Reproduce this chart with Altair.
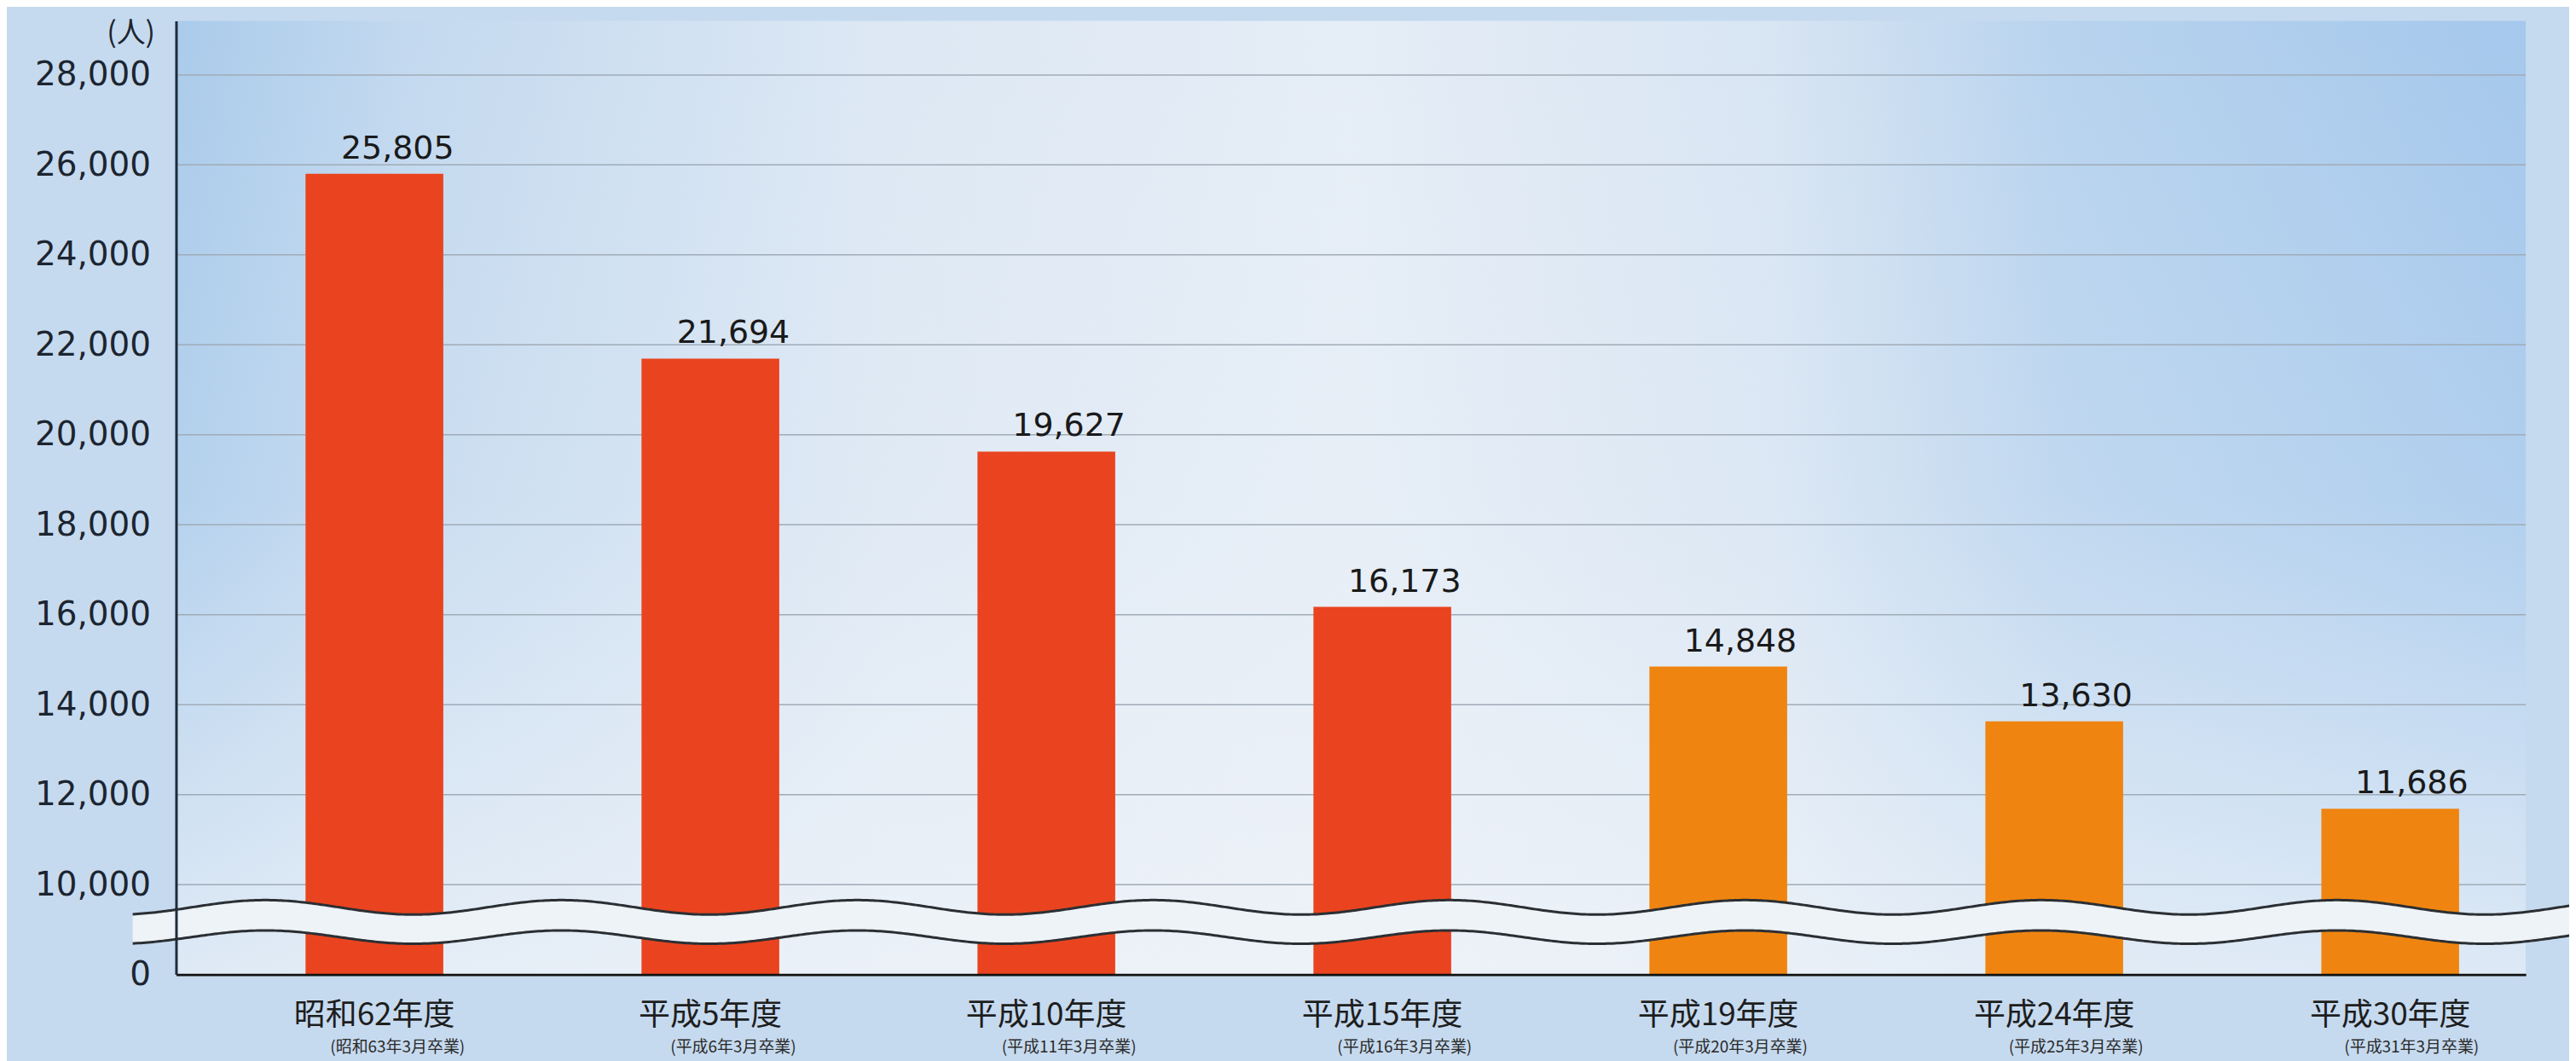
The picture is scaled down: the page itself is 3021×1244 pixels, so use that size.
import altair as alt
import pandas as pd

categories = ["昭和62年度", "平成5年度", "平成10年度", "平成15年度", "平成19年度", "平成24年度", "平成30年度"]
subtitles = ["(昭和63年3月卒業)", "(平成6年3月卒業)", "(平成11年3月卒業)", "(平成16年3月卒業)",
             "(平成20年3月卒業)", "(平成25年3月卒業)", "(平成31年3月卒業)"]
values = [25805, 21694, 19627, 16173, 14848, 13630, 11686]
groups = ["red", "red", "red", "red", "orange", "orange", "orange"]
y_ticks = [8000, 10000, 12000, 14000, 16000, 18000, 20000, 22000, 24000, 26000, 28000]
grid_ticks = y_ticks[1:]
AXIS_BREAK_BASE = 8000  # bottom of the broken axis, shown as "0"

W, H = 2763, 1121
JP = "Noto Sans CJK JP"
NUM = "DejaVu Sans"

df = pd.DataFrame({"cat": categories, "sub": subtitles, "v": values, "g": groups})
df["base"] = AXIS_BREAK_BASE
df["lab"] = [f"{v:,}" for v in values]
grid_df = pd.DataFrame({"v": grid_ticks})

yscale = alt.Scale(domain=[8000, 29200], nice=False, zero=False)
xscale = alt.Scale(domain=categories, paddingInner=0.59, paddingOuter=0.292, align=0.66)

x_axis = alt.Axis(title=None, labelFont=JP, labelFontSize=37, labelColor="#1e1e1e",
                  labelPadding=30, ticks=False, domainColor="#111111", domainWidth=3,
                  labelAngle=0, labelLimit=0, zindex=1, orient="bottom")
y_axis = alt.Axis(values=y_ticks, grid=False, ticks=False, labelPadding=30,
                  labelExpr="datum.value == 8000 ? '0' : format(datum.value, ',')",
                  labelFont=NUM, labelFontSize=39, labelColor="#1c2530",
                  domainColor="#1d2b3a", domainWidth=3,
                  title="(人)", titleAngle=0, titleAlign="right", titleBaseline="top",
                  titleX=-25, titleY=-2, titleFont=JP, titleFontSize=34,
                  titleFontWeight="normal", titleColor="#1c2530", zindex=1)

x_enc = alt.X("cat:N", sort=categories, scale=xscale, axis=x_axis)
x_noaxis = alt.X("cat:N", sort=categories, scale=xscale, axis=None)
y_enc = alt.Y("v:Q", scale=yscale, axis=y_axis)

one = pd.DataFrame({"a": [0]})
bg_h = alt.Chart(one).mark_rect(
    color=alt.Gradient(gradient="linear", x1=0, x2=1, y1=0, y2=0, stops=[
        alt.GradientStop(offset=0, color="#aacbeb"),
        alt.GradientStop(offset=0.1, color="#c3d9ef"),
        alt.GradientStop(offset=0.3, color="#dde8f4"),
        alt.GradientStop(offset=0.5, color="#e5edf6"),
        alt.GradientStop(offset=0.68, color="#d8e5f3"),
        alt.GradientStop(offset=0.8, color="#b8d3ee"),
        alt.GradientStop(offset=1, color="#a5c8ec"),
    ])
).encode(x=alt.value(0), x2=alt.value("width"), y=alt.value(0), y2=alt.value("height"))

bg_v = alt.Chart(one).mark_rect(
    color=alt.Gradient(gradient="linear", x1=0, x2=0, y1=0, y2=1, stops=[
        alt.GradientStop(offset=0, color="rgba(240,244,249,0)"),
        alt.GradientStop(offset=0.5, color="rgba(240,244,249,0.15)"),
        alt.GradientStop(offset=1, color="rgba(240,244,249,0.75)"),
    ])
).encode(x=alt.value(0), x2=alt.value("width"), y=alt.value(0), y2=alt.value("height"))

grid = alt.Chart(grid_df).mark_rule(color="#a0abb7", strokeWidth=1.5).encode(
    y=alt.Y("v:Q", scale=yscale, axis=y_axis), x=alt.value(0), x2=alt.value("width"))

bars = alt.Chart(df).mark_bar().encode(
    x=x_enc, y=y_enc, y2="base:Q",
    color=alt.Color("g:N", scale=alt.Scale(domain=["red", "orange"], range=["#e9441f", "#ef8510"]),
                    legend=None))

vlabels = alt.Chart(df).mark_text(font=NUM, fontSize=38, color="#1a1a1a", dy=-18,
                                  baseline="alphabetic").encode(x=x_noaxis, y=y_enc, text="lab:N")

sublabels = alt.Chart(df).mark_text(font=JP, fontSize=19, color="#2a2a2a", dy=77,
                                    baseline="top").encode(x=x_noaxis, y=alt.datum(8000), text="sub:N")

# decorative wavy break band
wave = alt.Chart(alt.sequence(-51, 2850, 3, as_="t")).transform_calculate(
    up="9494 + 161 * cos(2 * PI * (datum.t - 105) / 348)",
    lo="8832 + 148 * cos(2 * PI * (datum.t - 105) / 348)",
)
wx = alt.X("t:Q", scale=alt.Scale(domain=[0, W], nice=False, zero=False), axis=None)
band = wave.mark_area(color="#eef3f8", clip=False, opacity=1).encode(
    x=wx, y=alt.Y("up:Q", scale=yscale), y2="lo:Q")
line_up = wave.mark_line(color="#2b2f33", strokeWidth=3, clip=False).encode(
    x=wx, y=alt.Y("up:Q", scale=yscale))
line_lo = wave.mark_line(color="#2b2f33", strokeWidth=3, clip=False).encode(
    x=wx, y=alt.Y("lo:Q", scale=yscale))

chart = alt.layer(bg_h, bg_v, grid, bars, band, line_up, line_lo, vlabels, sublabels).resolve_scale(
    x="independent"
).properties(
    width=W, height=H,
    autosize=alt.AutoSizeParams(type="none"),
    padding={"left": 199, "top": 15, "right": 51, "bottom": 100},
    background="#c6daef",
).configure_view(stroke=None)

chart.save("out.html", embed_options={"renderer": "svg", "actions": False})
